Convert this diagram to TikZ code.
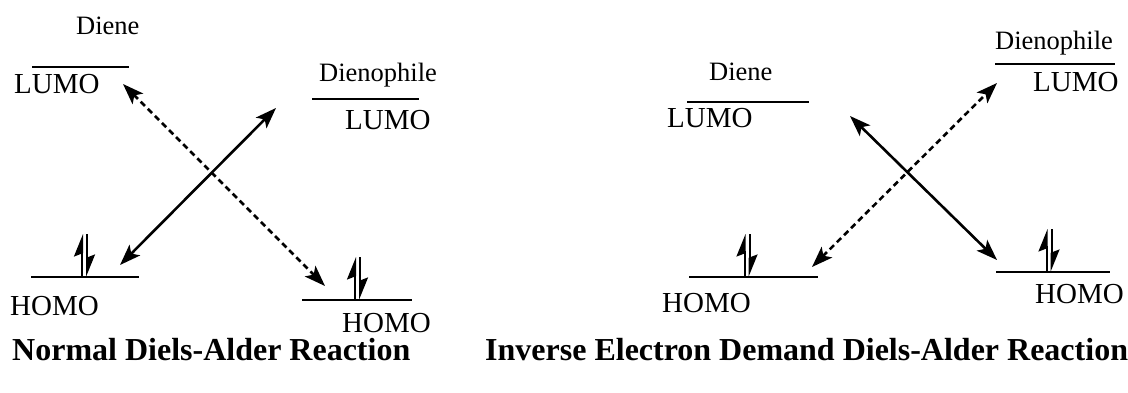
\documentclass[tikz,border=0pt]{standalone}
\usepackage{fontspec}
\setmainfont{Liberation Serif}
\usetikzlibrary{arrows.meta}
\tikzset{
  lvl/.style={line width=2pt},
  lbl/.style={inner sep=0pt, anchor=base west, font=\fontsize{26.5}{30}\selectfont},
  orb/.style={inner sep=0pt, anchor=base west, font=\fontsize{29}{32}\selectfont},
  ttl/.style={inner sep=0pt, anchor=base west, font=\bfseries\fontsize{32}{36}\selectfont},
  ia/.style={line width=2.6pt, {Stealth[length=21pt,width=15pt,inset=5pt]}-{Stealth[length=21pt,width=15pt,inset=5pt]}},
  ida/.style={ia, dash pattern=on 6pt off 4pt},
  spin/.style={line width=2pt, -{Stealth[harpoon,length=20pt,width=16pt,inset=3pt]}},
  epair/.pic={
    \draw[spin] (-2.5,0) -- (-2.5,-43);
    \draw[spin] (2.5,-43) -- (2.5,0);
  }
}
\begin{document}
\begin{tikzpicture}[x=1pt,y=-1pt]
\useasboundingbox (0,0) rectangle (1128,393);
% ---------- Normal Diels-Alder ----------
\node[lbl] (dA) at (76,35) {Diene};
\draw[lvl] (32,67) -- (129,67);
\node[orb] (luA) at (14,94) {LUMO};
\node[lbl] (dpA) at (319,82) {Dienophile};
\draw[lvl] (312,99) -- (419,99);
\node[orb] (lu2A) at (345,130) {LUMO};
\draw[lvl] (31,277) -- (139,277);
\pic at (84.5,277) {epair};
\node[orb] (hoA) at (10,315) {HOMO};
\draw[lvl] (302,300) -- (412,300);
\pic at (357.5,300) {epair};
\node[orb] (ho2A) at (342,332) {HOMO};
\coordinate (s1) at (120,265);
\coordinate (s2) at (276,108);
\coordinate (d1) at (123,84);
\coordinate (d2) at (325,286);
\draw[ia] (s1) -- (s2);
\draw[ida] (d1) -- (d2);
\node[ttl] (tA) at (12,360) {Normal Diels-Alder Reaction};
% ---------- Inverse electron demand ----------
\node[lbl] (dpB) at (995,50) {Dienophile};
\draw[lvl] (995,64) -- (1115,64);
\node[orb] (luB2) at (1033,92) {LUMO};
\node[lbl] (dB) at (709,81) {Diene};
\draw[lvl] (687,102) -- (809,102);
\node[orb] (luB) at (667,128) {LUMO};
\draw[lvl] (689,277) -- (818,277);
\pic at (747,277) {epair};
\node[orb] (hoB) at (662,312) {HOMO};
\draw[lvl] (996,272) -- (1110,272);
\pic at (1049,272) {epair};
\node[orb] (hoB2) at (1035,303) {HOMO};
\coordinate (s3) at (850,116);
\coordinate (s4) at (997,260);
\coordinate (d3) at (812,267);
\coordinate (d4) at (997,83);
\draw[ia] (s3) -- (s4);
\draw[ida] (d3) -- (d4);
\node[ttl] (tB) at (485,360) {Inverse Electron Demand Diels-Alder Reaction};
\end{tikzpicture}
\end{document}
